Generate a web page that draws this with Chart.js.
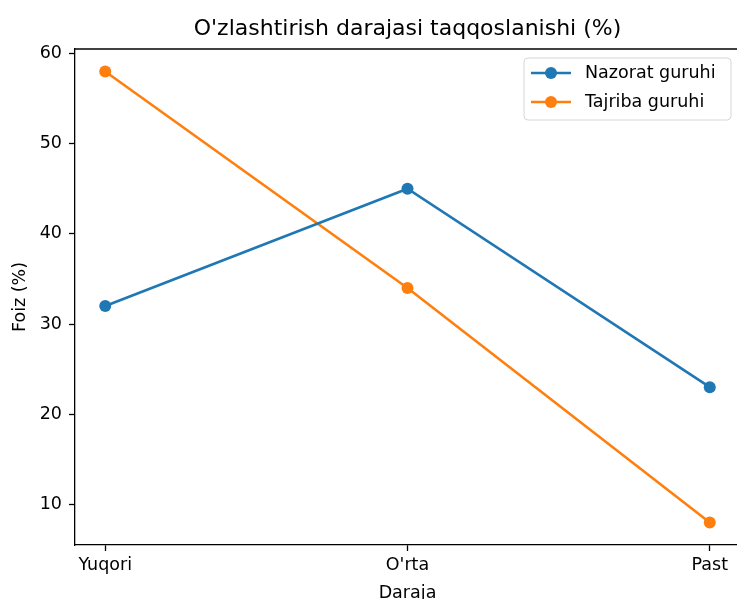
<!DOCTYPE html>
<html>
<head>
<meta charset="utf-8">
<script src="https://cdn.jsdelivr.net/npm/chart.js@4"></script>
<style>
html,body{margin:0;padding:0;background:#fff;overflow:hidden;width:737px;height:599px;}
#wrap{width:816px;height:610px;}
</style>
</head>
<body>
<div id="wrap"><canvas id="c" width="816" height="610"></canvas></div>
<script>
const categories = ["Yuqori", "O'rta", "Past"];
const nazorat = [32, 45, 23];
const tajriba = [58, 34, 8];
const yTicks = [10, 20, 30, 40, 50, 60];
const seriesNames = ["Nazorat guruhi", "Tajriba guruhi"];
const colors = ["#1f77b4", "#ff7f0e"];

const FONT = "'DejaVu Sans', sans-serif";

const frame = {
  id: 'frame',
  afterLayout(chart) {
    const tb = chart.titleBlock;
    if (tb) {
      tb.left = chart.chartArea.left;
      tb.right = chart.chartArea.right;
      tb.width = tb.right - tb.left;
    }
  },
  afterDraw(chart) {
    const {ctx, chartArea: a} = chart;
    ctx.save();
    ctx.strokeStyle = '#000';
    ctx.lineWidth = 1.3;
    ctx.beginPath();
    ctx.moveTo(a.left, a.top);
    ctx.lineTo(a.right, a.top);
    ctx.stroke();
    // legend
    const bx = 524, by = 58, bw = 207, bh = 62, r = 4;
    ctx.beginPath();
    ctx.moveTo(bx + r, by);
    ctx.arcTo(bx + bw, by, bx + bw, by + bh, r);
    ctx.arcTo(bx + bw, by + bh, bx, by + bh, r);
    ctx.arcTo(bx, by + bh, bx, by, r);
    ctx.arcTo(bx, by, bx + bw, by, r);
    ctx.closePath();
    ctx.fillStyle = 'rgba(255,255,255,0.8)';
    ctx.fill();
    ctx.strokeStyle = '#d6d6d6';
    ctx.lineWidth = 1;
    ctx.stroke();
    const rows = [73, 102];
    chart.data.datasets.forEach((ds, i) => {
      const y = rows[i];
      ctx.strokeStyle = ds.borderColor;
      ctx.lineWidth = 2.6;
      ctx.beginPath();
      ctx.moveTo(531, y);
      ctx.lineTo(571, y);
      ctx.stroke();
      ctx.fillStyle = ds.borderColor;
      ctx.beginPath();
      ctx.arc(551, y, 6, 0, Math.PI * 2);
      ctx.fill();
      ctx.fillStyle = '#000';
      ctx.font = "17.5px " + FONT;
      ctx.textBaseline = 'middle';
      ctx.textAlign = 'left';
      ctx.fillText(ds.label, 585, y);
    });
    ctx.restore();
  }
};

const toXY = arr => arr.map((v, i) => ({x: i, y: v}));

new Chart(document.getElementById('c'), {
  type: 'line',
  data: {
    datasets: [
      {label: seriesNames[0], data: toXY(nazorat), borderColor: colors[0], backgroundColor: colors[0],
       borderWidth: 2.6, pointRadius: 6, pointHoverRadius: 6, pointBorderWidth: 0, fill: false, tension: 0, clip: false},
      {label: seriesNames[1], data: toXY(tajriba), borderColor: colors[1], backgroundColor: colors[1],
       borderWidth: 2.6, pointRadius: 6, pointHoverRadius: 6, pointBorderWidth: 0, fill: false, tension: 0, clip: false}
    ]
  },
  options: {
    responsive: false,
    animation: false,
    events: [],
    layout: {padding: {left: 0, top: 0, right: 76, bottom: 0}},
    plugins: {
      legend: {display: false},
      tooltip: {enabled: false},
      title: {
        display: true,
        text: "O'zlashtirish darajasi taqqoslanishi (%)",
        color: '#000',
        font: {family: FONT, size: 22, weight: 'normal', lineHeight: 1.2},
        padding: {top: 16.3, bottom: 6.3}
      }
    },
    scales: {
      x: {
        type: 'linear',
        min: -0.1,
        max: 2.1,
        afterBuildTicks(scale) { scale.ticks = categories.map((c, i) => ({value: i})); },
        afterFit(scale) { scale.height = 65; },
        ticks: {
          color: '#000',
          font: {family: FONT, size: 17.5},
          padding: 3.5,
          maxRotation: 0,
          autoSkip: false,
          callback: v => categories[v]
        },
        grid: {drawOnChartArea: false, drawTicks: true, tickLength: 6, color: '#000', tickWidth: 1.3},
        border: {display: true, color: '#000', width: 1.3},
        title: {display: true, text: 'Daraja', color: '#000', font: {family: FONT, size: 17.5, lineHeight: 1.2}, padding: {top: 0, bottom: 6.5}}
      },
      y: {
        type: 'linear',
        min: 5.5,
        max: 60.5,
        afterBuildTicks(scale) { scale.ticks = yTicks.map(v => ({value: v})); },
        afterFit(scale) { scale.width = 75; },
        ticks: {
          color: '#000',
          font: {family: FONT, size: 17.5},
          padding: 7
        },
        grid: {drawOnChartArea: false, drawTicks: true, tickLength: 6, color: '#000', tickWidth: 1.3},
        border: {display: true, color: '#000', width: 1.3},
        title: {display: true, text: 'Foiz (%)', color: '#000', font: {family: FONT, size: 17.5, lineHeight: 1.2}, padding: {top: 9.5, bottom: 0}}
      }
    }
  },
  plugins: [frame]
});
</script>
</body>
</html>
